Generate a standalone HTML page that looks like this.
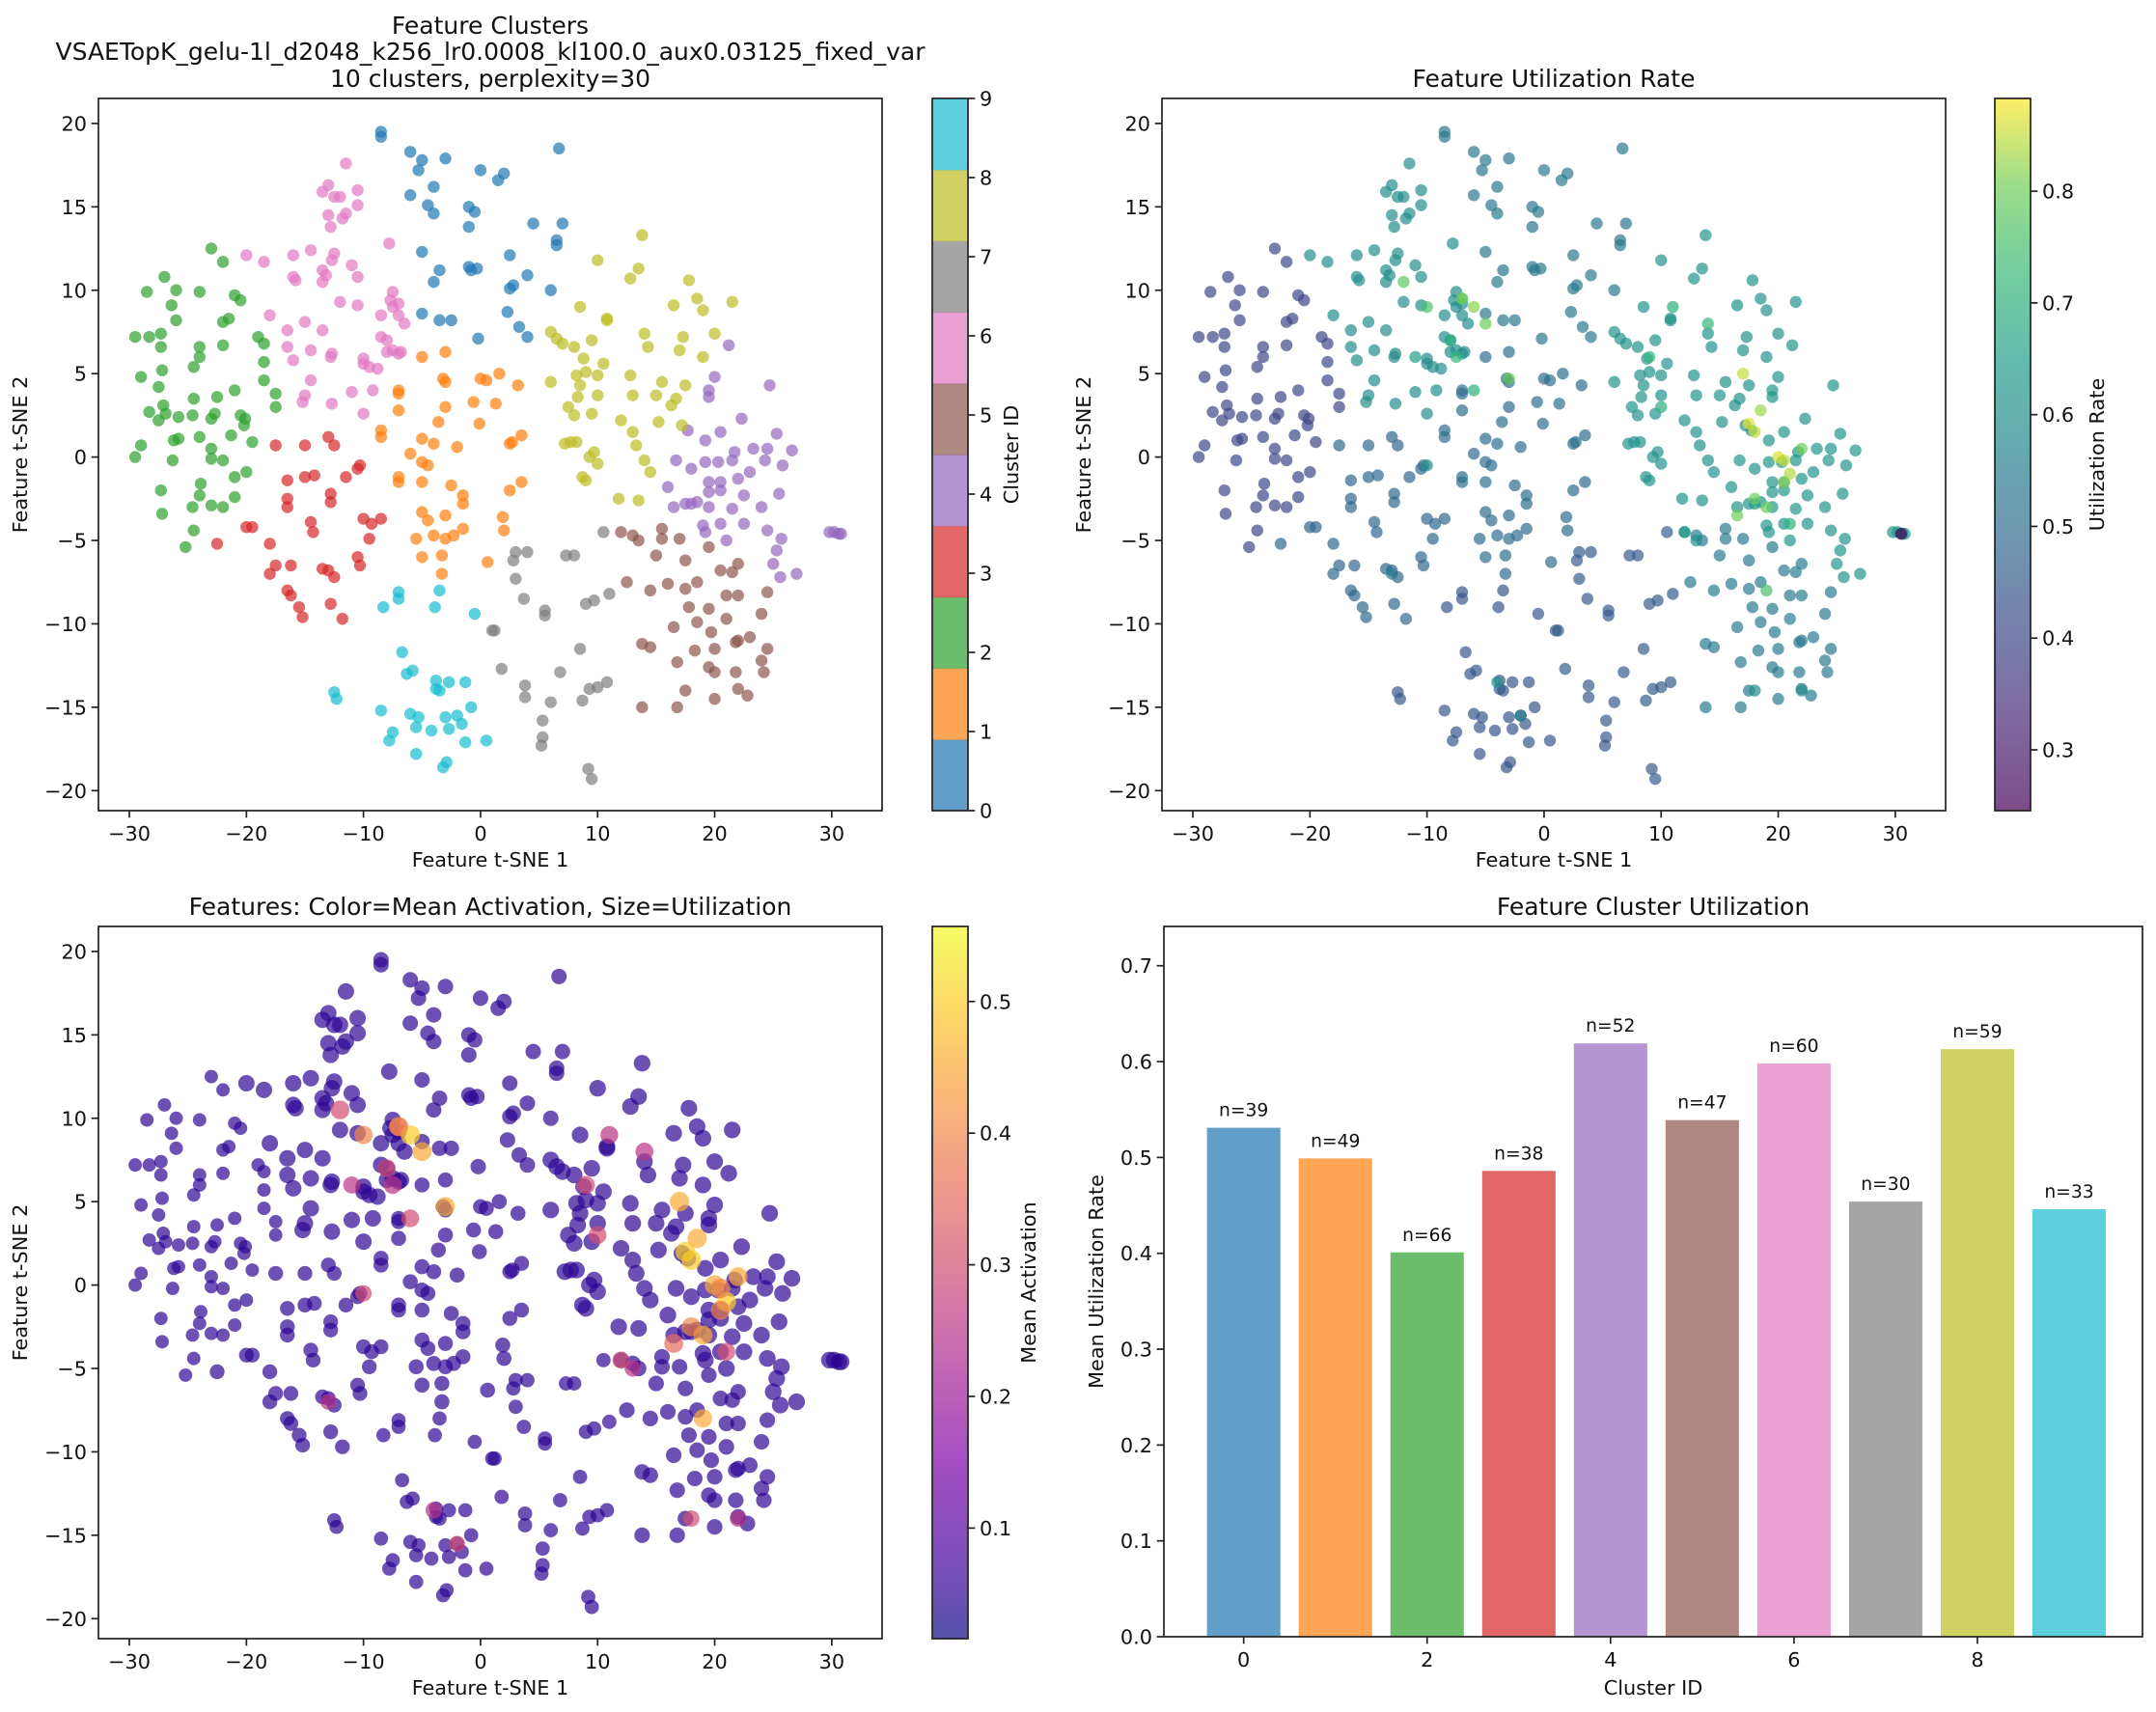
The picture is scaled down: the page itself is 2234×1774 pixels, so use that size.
<!DOCTYPE html>
<html><head><meta charset="utf-8">
<style>
html,body{margin:0;padding:0;background:#fff;}
svg{display:block;font-family:"DejaVu Sans","Liberation Sans",sans-serif;}
</style></head>
<body>
<svg id="fig" width="2234" height="1774" xmlns="http://www.w3.org/2000/svg"></svg>
<script>
// ---------- DATA ----------
const clusterIds = [0,1,2,3,4,5,6,7,8,9];
const clusterCounts = [39,49,66,38,52,47,60,30,59,33];
const clusterUtil = [0.531,0.499,0.401,0.486,0.619,0.539,0.598,0.454,0.613,0.446];
const clusterColors = ["#1f77b4","#ff7f0e","#2ca02c","#d62728","#9467bd","#8c564b","#e377c2","#7f7f7f","#bcbd22","#17becf"];
const c0 = [[-8.5,19.5],[-6,18.3],[-5,17.8],[-3,17.9],[-4,16.2],[-6,15.7],[-4.5,15.1],[0,17.2],[1.5,16.6],[2,17],[-1,15],[-0.5,14.7],[4.5,14],[7,14],[6.7,18.5],[6.5,13],[6.5,12.7],[2.5,12.1],[4,10.9],[2.5,10.1],[-1,11.4],[-0.3,11.3],[-3.5,11.2],[-4,10.5],[-5,12.3],[-5,8.6],[-3.5,8.2],[-2.5,8.2],[-0.2,7.1],[6,10],[2.3,8.7],[3.3,7.8],[4,7.2],[2.8,10.3],[-0.8,11.2],[-1,13.8],[-5.3,17.2],[-4,14.6],[-8.5,19.2]];
const c1 = [[-3,6.3],[-5,6],[-7,4],[-7,3.8],[-3.2,4.7],[-3,4.5],[0,4.7],[0.5,4.6],[1.6,5],[3.2,4.3],[1.3,3.2],[-0.6,3.3],[-3,3],[-7,2.8],[-3.6,2.1],[-0.1,2],[-8.5,1.6],[-8.5,1.2],[-5,1.1],[-4,0.8],[-2,0.6],[-6,0.2],[-5,-0.3],[-4.5,-0.5],[-7,-1.2],[-7,-1.5],[-5,-1.5],[-2.5,-1.7],[-1.5,-2.3],[-1.5,-2.8],[2.5,-2],[3.5,-1.5],[2.5,0.8],[3.5,1.3],[-5,-3.3],[-4.5,-3.8],[-3,-3.5],[-5.5,-4.9],[-4,-4.7],[-3,-4.9],[-2.3,-4.7],[-1.5,-4.3],[-5,-6],[-3.3,-5.9],[-3.3,-7],[1.9,-3.6],[2,-4.4],[0.6,-6.3],[2.7,0.9]];
const c2 = [[-29.5,7.2],[-28.5,9.9],[-27,10.8],[-28.3,7.2],[-27.3,7.4],[-27.3,6.6],[-29,4.8],[-27.5,4.2],[-27.2,5.2],[-27.1,3.1],[-28.3,2.7],[-26.9,2.6],[-27.5,2.2],[-29,0.7],[-29.5,0],[-26.2,1],[-25.8,1.1],[-26.3,-0.2],[-25.8,2.4],[-24.5,3.5],[-24.6,2.5],[-24,1.2],[-24.6,-3],[-24,-2.3],[-23.9,-1.6],[-24.5,-4.4],[-25.2,-5.4],[-27.3,-2],[-27.2,-3.4],[-23,0.5],[-23,-0.1],[-22,-0.2],[-23,-2.9],[-22,-3],[-23,2.3],[-22.7,2.6],[-21.3,1.3],[-21,-1.2],[-20.5,2.5],[-20.1,2.3],[-20.2,1.9],[-20,-0.9],[-19.5,0.9],[-21,-2.4],[-17.5,3],[-17.5,3.8],[-18.5,4.6],[-18.5,5.7],[-21,4],[-22.5,3.6],[-24,6],[-24,6.6],[-24.5,5.4],[-26,8.2],[-26.4,9.1],[-26,10],[-24,9.9],[-22,8.1],[-21.5,8.3],[-21,9.7],[-20.5,9.4],[-22,6.7],[-19,7.2],[-18.5,6.8],[-23,12.5],[-22,11.7]];
const c3 = [[-20,-4.2],[-19.5,-4.2],[-18,-5.2],[-17.5,-6.5],[-18,-7],[-16.5,-8],[-16.2,-8.3],[-15.5,-9],[-15.2,-9.6],[-12.8,-8.8],[-11.8,-9.7],[-16.2,-6.5],[-13.5,-6.7],[-13,-6.8],[-12.5,-7.2],[-10.5,-6],[-10.3,-6.5],[-9.5,-4.9],[-10,-3.7],[-9.3,-4],[-8.5,-3.7],[-14.5,-3.9],[-14.3,-4.5],[-16.5,-3],[-16.5,-2.5],[-16.5,-1.4],[-15,-1.2],[-14.2,-1.1],[-12.8,-2.2],[-12.8,-2.7],[-11.5,-1.2],[-10.5,-0.7],[-10.3,-0.5],[-12.5,0.7],[-13,1.2],[-15,0.7],[-17.5,0.7],[-22.5,-5.2]];
const c4 = [[21.2,6.7],[20,4.8],[19.5,4],[19.5,3.6],[22.3,2.3],[17.7,1.6],[19.2,1],[20.5,1.5],[21.7,0.3],[23.3,0.5],[24.5,0.5],[26.6,0.4],[25.3,1.4],[24.7,4.3],[16.7,-0.2],[18,-0.7],[19.2,-0.3],[20.3,-0.3],[21.5,-0.2],[23,-0.9],[24.3,-0.2],[25.8,-0.5],[19.5,-1.5],[20.5,-1.5],[22,-1.3],[19.5,-2.1],[20.5,-2],[21.5,-3.1],[22.5,-2.3],[25.5,-2.2],[16,-1.8],[16.5,-3],[17.5,-2.8],[18.5,-2.7],[19.5,-3],[24,-3],[19,-4.1],[20.5,-4],[19.2,-4.5],[21,-5],[22.5,-4],[24.5,-4.4],[25.7,-4.9],[25.3,-5.6],[25,-6.4],[25.6,-7.2],[27,-7],[29.8,-4.5],[30.2,-4.5],[30.6,-4.6],[30.8,-4.6],[18,-2.8]];
const c5 = [[12,-4.5],[13,-4.7],[13.5,-5],[15.5,-4.3],[15.5,-4.9],[17,-4.9],[15,-5.9],[17.5,-6.2],[19.5,-5.4],[20.5,-6.8],[21.5,-6.9],[22,-6.4],[24.5,-8.1],[17.5,-7.9],[18.5,-7.5],[16,-7.6],[14.5,-8],[12.5,-7.5],[17.8,-9],[19.5,-9.1],[21,-8.3],[22,-8.3],[24,-9.4],[18.5,-9.9],[19.7,-10.5],[21,-9.7],[16.5,-10.2],[22,-11],[23,-10.8],[13.8,-11.2],[14.5,-11.4],[18.3,-11.6],[20,-11.5],[21.8,-11.1],[24.5,-11.5],[16.8,-12.3],[19.5,-12.6],[20,-12.9],[21.8,-12.9],[24,-12.2],[24.2,-12.9],[22,-13.9],[22.8,-14.3],[17.5,-14],[20,-14.5],[16.8,-15],[13.8,-15]];
const c6 = [[-20,12.1],[-18.5,11.7],[-16,12.1],[-14.5,12.4],[-12.5,12.2],[-12.7,11.8],[-13.5,11.2],[-13.2,10.9],[-13.5,10.5],[-16,10.8],[-15.8,10.6],[-11,11.5],[-10.5,10.8],[-7.8,12.8],[-11.5,17.6],[-13,16.3],[-13.5,15.9],[-12,15.6],[-12.5,15.6],[-10.5,16],[-10.5,15.1],[-11.5,14.6],[-11.8,14.3],[-13,14.5],[-12.8,13.8],[-18,8.5],[-15,8.1],[-13.5,7.6],[-12,9.3],[-10.5,9.1],[-8.5,8.5],[-7.5,9.9],[-7.5,9],[-7,9.2],[-7.7,9.4],[-7,8.5],[-8.5,7.2],[-8,7],[-6.5,8],[-16.5,7.6],[-16.5,6.6],[-16,5.8],[-14.5,6.4],[-12.7,6.2],[-12.8,6],[-10,5.9],[-10,5.6],[-9.5,5.4],[-8.8,5.3],[-8,6.3],[-7.5,6.4],[-6.8,6.3],[-14.5,4.6],[-15,3.7],[-15.2,3.3],[-12.7,3.2],[-11,3.9],[-10,2.6],[-9.2,4],[-7,6.2]];
const c7 = [[10.5,-4.5],[8,-5.9],[7.3,-5.9],[4,-5.7],[3,-5.7],[2.8,-6.2],[3,-7.3],[3.7,-8.5],[5.5,-9.2],[5.5,-9.5],[9,-8.8],[9.7,-8.6],[11,-8.2],[1.2,-10.4],[1,-10.4],[8.5,-11.5],[1.8,-12.7],[6.8,-12.9],[3.8,-13.7],[3.8,-14.4],[6,-14.7],[9.3,-13.9],[10,-13.8],[10.8,-13.5],[8.7,-14.6],[5.3,-15.8],[5.3,-16.8],[5.2,-17.3],[9.2,-18.7],[9.5,-19.3]];
const c8 = [[13.8,13.3],[10,11.8],[13.5,11.3],[12.8,10.7],[17.8,10.6],[18.5,9.5],[21.5,9.3],[16.5,9.1],[19,8.8],[8.5,9],[10.8,8.3],[10.8,8.2],[14,7.4],[17.3,7.2],[20,7.4],[6.5,7.1],[7,6.8],[9.5,7],[8,6.6],[14.3,6.6],[17,6.4],[19,6],[8.8,5.9],[10.5,5.6],[9,5.1],[8.2,4.9],[10,4.9],[12.8,4.9],[6,4.5],[8.5,4.3],[15.5,4.5],[17.5,4.3],[13,3.7],[15,3.7],[16.7,3.5],[8.3,3.6],[10,3.7],[16.3,3.1],[7.5,3],[8,2.5],[9.5,2.6],[12,2.2],[15.2,2.1],[17.2,1.9],[7.2,0.8],[7.7,0.9],[8.2,0.9],[9.7,0.3],[9.3,0],[10,-0.4],[13.3,0.7],[14,-0.2],[14.5,-0.9],[8.7,-1.2],[9,-1.4],[11.8,-2.5],[13.5,-2.6],[6,7.5],[13,1.5]];
const c9 = [[-12.5,-14.1],[-12.3,-14.5],[-8.5,-15.2],[-7.8,-17],[-7.5,-16.5],[-7,-8.1],[-7,-8.5],[-8.3,-9],[-6.7,-11.7],[-6.3,-13],[-5.8,-12.8],[-6,-15.4],[-5.5,-16.2],[-5.5,-17.8],[-5.3,-15.6],[-4.2,-16.4],[-3.8,-13.4],[-3.8,-13.9],[-3.5,-14],[-2.7,-13.5],[-1.3,-13.5],[-3,-15.6],[-2.7,-16.3],[-2,-15.5],[-1.6,-16],[-0.8,-15],[-1.3,-17.1],[0.5,-17],[-3.2,-18.6],[-2.9,-18.3],[-3.5,-8],[-3.9,-9],[-0.5,-9.4]];
const clusterPoints = [c0,c1,c2,c3,c4,c5,c6,c7,c8,c9];
// extra highlighted features: x, y, utilization, mean activation
const hiX = [-10,-7,-5,-6,-8,-7.5,-6,-3,-10,-13,-4,-2,17,17.5,18,20,21,19,18,22,20.5,19,13,9,10,11,14,21,-11,12,22,18,30.5,-7,-12,16.5,18.5,20.5];
const hiY = [9,9.5,8,9,7,6,4,4.7,-0.5,-7,-13.5,-15.5,5,2,1.5,0,-1,-3,-2.5,0.5,-1.5,-8,-5,6,3,9,8,-4,6,-4.5,-14,-14,-4.6,9.5,10.5,-3.5,2.8,-0.2];
const hiUtil = [0.75,0.78,0.8,0.82,0.7,0.72,0.7,0.8,0.6,0.55,0.6,0.55,0.85,0.87,0.85,0.86,0.84,0.8,0.8,0.8,0.82,0.75,0.6,0.72,0.7,0.7,0.72,0.7,0.65,0.65,0.6,0.6,0.25,0.8,0.78,0.8,0.83,0.85];
const hiAct = [0.4,0.35,0.45,0.5,0.3,0.25,0.3,0.45,0.3,0.25,0.25,0.3,0.45,0.5,0.5,0.45,0.5,0.45,0.4,0.45,0.4,0.45,0.25,0.3,0.3,0.25,0.25,0.3,0.25,0.3,0.25,0.3,0.05,0.4,0.3,0.35,0.45,0.4];
const baseAct = 0.05;
const xTicks = [-30,-20,-10,0,10,20,30];
const yTicks = [-20,-15,-10,-5,0,5,10,15,20];
const cbUtilTicks = [0.3,0.4,0.5,0.6,0.7,0.8];
const cbActTicks = [0.1,0.2,0.3,0.4,0.5];
const barYTicks = [0.0,0.1,0.2,0.3,0.4,0.5,0.6,0.7];
const barXTicks = [0,2,4,6,8];

// ---------- helpers ----------
const NS="http://www.w3.org/2000/svg";
const svg=document.getElementById('fig');
function mk(tag,attrs,parent,text){const e=document.createElementNS(NS,tag);for(const k in attrs)e.setAttribute(k,attrs[k]);if(text!==undefined)e.textContent=text;(parent||svg).appendChild(e);return e;}
function lerpHex(a,b,t){const pa=[1,3,5].map(i=>parseInt(a.substr(i,2),16)),pb=[1,3,5].map(i=>parseInt(b.substr(i,2),16));return 'rgb('+pa.map((v,i)=>Math.round(v+(pb[i]-v)*t)).join(',')+')';}
const viridis=["#440154","#482878","#3e4989","#31688e","#26828e","#1f9e89","#35b779","#6ece58","#fde725"];
const plasma=["#0d0887","#4c02a1","#7e03a8","#a92395","#cc4778","#e66c5c","#f89540","#fdc527","#f0f921"];
function cmap(stops,t){t=Math.max(0,Math.min(1,t));const n=stops.length-1;const i=Math.min(n-1,Math.floor(t*n));return lerpHex(stops[i],stops[i+1],t*n-i);}
const TICK=20.8, LAB=20.8, TTL=25;

function makeAxis(L,R,T,B,x0,x1,y0,y1){return {L,R,T,B,sx:v=>L+(v-x0)/(x1-x0)*(R-L),sy:v=>B-(v-y0)/(y1-y0)*(B-T)};}
function frame(ax,name){mk('rect',{x:ax.L,y:ax.T,width:ax.R-ax.L,height:ax.B-ax.T,fill:'none',stroke:'#222','stroke-width':1.7,});}
function ticksX(ax,vals,fmt,name){const g=mk('g',{});vals.forEach(v=>{const x=ax.sx(v);mk('line',{x1:x,x2:x,y1:ax.B,y2:ax.B+7.3,stroke:'#222','stroke-width':1.7},g);const t=mk('text',{x:x,y:ax.B+31,'font-size':TICK,'text-anchor':'middle',fill:'#111'},g,fmt(v));});}
function ticksY(ax,vals,fmt,name){const g=mk('g',{});vals.forEach(v=>{const y=ax.sy(v);mk('line',{x1:ax.L-7.3,x2:ax.L,y1:y,y2:y,stroke:'#222','stroke-width':1.7},g);const t=mk('text',{x:ax.L-12,y:y+7.5,'font-size':TICK,'text-anchor':'end',fill:'#111'},g,fmt(v));});}
const minus=v=>(v<0?'\u2212'+Math.abs(v):''+v);
function label(x,y,txt,rot,name,size){const a={x:x,y:y,'font-size':size||LAB,'text-anchor':'middle',fill:'#111',};if(rot)a.transform='rotate(-90 '+x+' '+y+')';return mk('text',a,svg,txt);}

// ---------- Panel 1: clusters ----------
const X0=-32.64,X1=34.3,Y0=-21.2,Y1=21.5;
const R1=6.2;
const a1=makeAxis(102,914,102,840,X0,X1,Y0,Y1);
const g1=mk('g',{});
clusterPoints.forEach((pts,ci)=>pts.forEach(p=>{const c=mk('circle',{cx:a1.sx(p[0]),cy:a1.sy(p[1]),r:R1,fill:clusterColors[ci],'fill-opacity':0.7},g1);}));
frame(a1,'panel1');ticksX(a1,xTicks,minus,'panel1');ticksY(a1,yTicks,minus,'panel1');
label(508,35,'Feature Clusters','', 'panel1-title',TTL);
label(508,62,'VSAETopK_gelu-1l_d2048_k256_lr0.0008_kl100.0_aux0.03125_fixed_var','','panel1-subtitle',TTL);
label(508,90,'10 clusters, perplexity=30','','panel1-subtitle-2',TTL);
label(508,898,'Feature t-SNE 1','','panel1-x-axis-title');
label(28,471,'Feature t-SNE 2',true,'panel1-y-axis-title');
// discrete colorbar
const cb1={L:966,R:1003,T:102,B:840};
const gcb=mk('g',{});
clusterIds.forEach(i=>{const h=(cb1.B-cb1.T)/10;mk('rect',{x:cb1.L,y:cb1.B-(i+1)*h,width:cb1.R-cb1.L,height:h+0.5,fill:clusterColors[i],'fill-opacity':0.7},gcb);});
mk('rect',{x:cb1.L,y:cb1.T,width:37,height:cb1.B-cb1.T,fill:'none',stroke:'#222','stroke-width':1.7},gcb);
clusterIds.forEach(i=>{const y=cb1.B-i*(cb1.B-cb1.T)/9;mk('line',{x1:cb1.R,x2:cb1.R+7.3,y1:y,y2:y,stroke:'#222','stroke-width':1.7},gcb);mk('text',{x:cb1.R+12,y:y+7.5,'font-size':TICK,fill:'#111'},gcb,''+i);});
label(1055,471,'Cluster ID',true,'cluster-colorbar-label');

// ---------- Panel 2: utilization ----------
const a2=makeAxis(1204,2016,102,840,X0,X1,Y0,Y1);
const uMin=0.2456,uMax=0.883;
const g2=mk('g',{});
clusterPoints.forEach((pts,ci)=>pts.forEach(p=>{const c=mk('circle',{cx:a2.sx(p[0]),cy:a2.sy(p[1]),r:R1,fill:cmap(viridis,(clusterUtil[ci]-uMin)/(uMax-uMin)),'fill-opacity':0.7},g2);}));
hiX.forEach((x,i)=>{const c=mk('circle',{cx:a2.sx(x),cy:a2.sy(hiY[i]),r:R1,fill:cmap(viridis,(hiUtil[i]-uMin)/(uMax-uMin)),'fill-opacity':0.7},g2);});
frame(a2,'panel2');ticksX(a2,xTicks,minus,'panel2');ticksY(a2,yTicks,minus,'panel2');
label(1610,90,'Feature Utilization Rate','','panel2-title',TTL);
label(1610,898,'Feature t-SNE 1','','panel2-x-axis-title');
label(1130,471,'Feature t-SNE 2',true,'panel2-y-axis-title');
function gradBar(id,stops,L,T,B,vmin,vmax,ticks,name,lab,labX){
  const defs=mk('defs',{});const lg=mk('linearGradient',{id:id,x1:0,y1:1,x2:0,y2:0},defs);
  stops.forEach((c,i)=>mk('stop',{offset:i/(stops.length-1),'stop-color':c},lg));
  const g=mk('g',{});
  mk('rect',{x:L,y:T,width:37,height:B-T,fill:'url(#'+id+')','fill-opacity':0.7},g);
  mk('rect',{x:L,y:T,width:37,height:B-T,fill:'none',stroke:'#222','stroke-width':1.7},g);
  ticks.forEach(v=>{const y=B-(v-vmin)/(vmax-vmin)*(B-T);mk('line',{x1:L+37,x2:L+44.3,y1:y,y2:y,stroke:'#222','stroke-width':1.7},g);mk('text',{x:L+49,y:y+7.5,'font-size':TICK,fill:'#111'},g,v.toFixed(1));});
  label(labX,(T+B)/2,lab,true,name+'-label');
}
gradBar('vir',viridis,2067,102,840,uMin,uMax,cbUtilTicks,'utilization-colorbar','Utilization Rate',2180);

// ---------- Panel 3: activation ----------
const a3=makeAxis(102,914,960,1698,X0,X1,Y0,Y1);
const aMin=0.016,aMax=0.557;
const g3=mk('g',{});
const rs=u=>Math.sqrt(u*100)/2*2.2;
clusterPoints.forEach((pts,ci)=>pts.forEach(p=>{const c=mk('circle',{cx:a3.sx(p[0]),cy:a3.sy(p[1]),r:rs(clusterUtil[ci]),fill:cmap(plasma,(baseAct-aMin)/(aMax-aMin)),'fill-opacity':0.7},g3);}));
hiX.forEach((x,i)=>{const c=mk('circle',{cx:a3.sx(x),cy:a3.sy(hiY[i]),r:rs(hiUtil[i]),fill:cmap(plasma,(hiAct[i]-aMin)/(aMax-aMin)),'fill-opacity':0.7},g3);});
frame(a3,'panel3');ticksX(a3,xTicks,minus,'panel3');ticksY(a3,yTicks,minus,'panel3');
label(508,948,'Features: Color=Mean Activation, Size=Utilization','','panel3-title',TTL);
label(508,1756,'Feature t-SNE 1','','panel3-x-axis-title');
label(28,1329,'Feature t-SNE 2',true,'panel3-y-axis-title');
gradBar('pla',plasma,966,960,1698,aMin,aMax,cbActTicks,'activation-colorbar','Mean Activation',1073);

// ---------- Panel 4: bars ----------
const a4=makeAxis(1206,2220,960,1696,-0.87,9.8,0,0.741);
const g4=mk('g',{});
clusterIds.forEach((id,i)=>{const x=a4.sx(id-0.4),w=a4.sx(id+0.4)-x,y=a4.sy(clusterUtil[i]);
  const r=mk('rect',{x:x,y:y,width:w,height:a4.B-y,fill:clusterColors[i],'fill-opacity':0.7},g4);
  
  const t=mk('text',{x:a4.sx(id),y:a4.sy(clusterUtil[i]+0.01)-2,'font-size':18.7,'text-anchor':'middle',fill:'#111'},g4,'n='+clusterCounts[i]);
  });
frame(a4,'panel4');ticksX(a4,barXTicks,v=>''+v,'panel4');ticksY(a4,barYTicks,v=>v.toFixed(1),'panel4');
label(1713,948,'Feature Cluster Utilization','','panel4-title',TTL);
label(1713,1756,'Cluster ID','','panel4-x-axis-title');
label(1143,1328,'Mean Utilization Rate',true,'panel4-y-axis-title');
</script>
</body></html>
